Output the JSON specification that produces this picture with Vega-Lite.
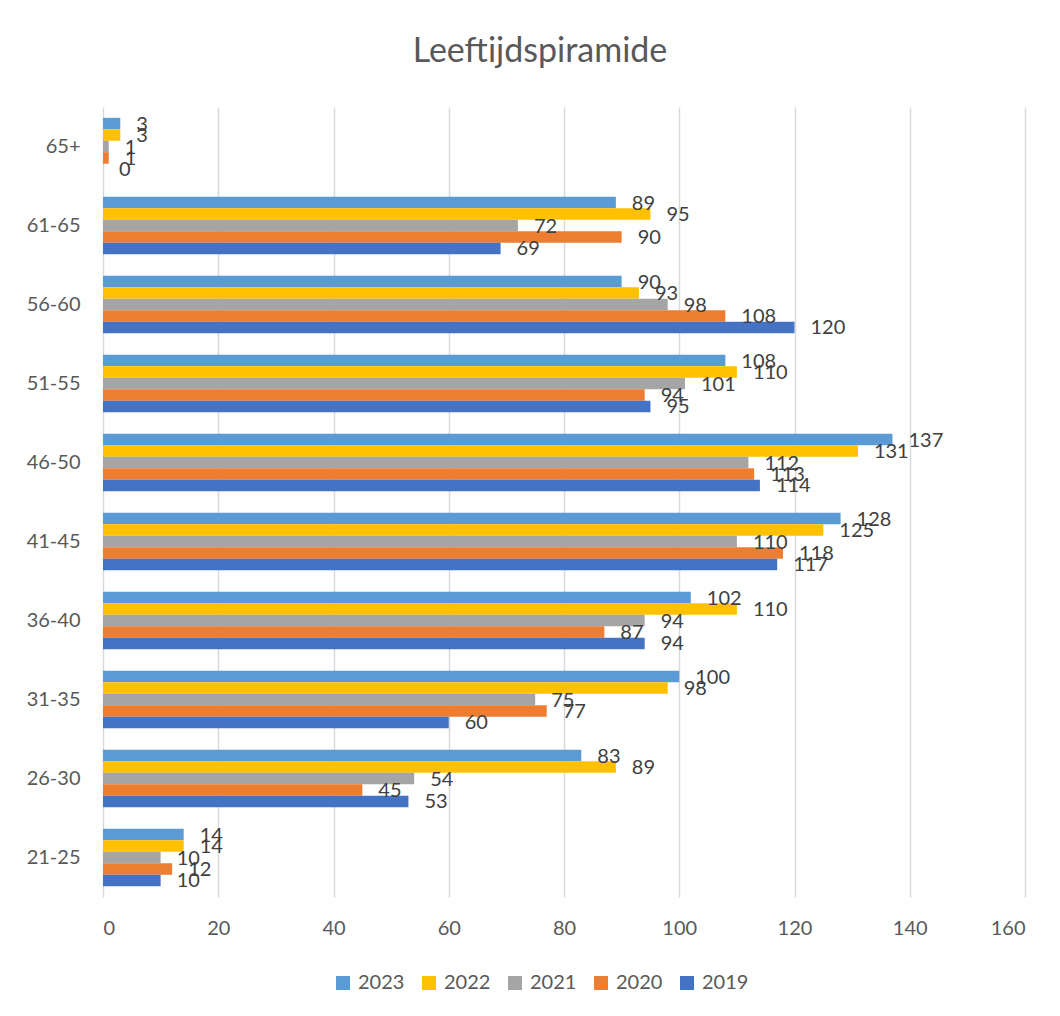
{
  "$schema": "https://vega.github.io/schema/vega-lite/v6.json",
  "autosize": {"type": "none"},
  "padding": {"left": 103, "top": 107, "right": 35, "bottom": 119},
  "width": 922,
  "height": 790,
  "background": "white",
  "title": {
    "text": "Leeftijdspiramide",
    "font": "Lato",
    "fontSize": 34,
    "fontWeight": "normal",
    "color": "#595959",
    "anchor": "middle",
    "frame": "group",
    "baseline": "alphabetic",
    "offset": 11,
    "dx": -24
  },
  "data": {
    "values": [
      {"Leeftijd": "65+", "Jaar": "2023", "Aantal": 3},
      {"Leeftijd": "65+", "Jaar": "2022", "Aantal": 3},
      {"Leeftijd": "65+", "Jaar": "2021", "Aantal": 1},
      {"Leeftijd": "65+", "Jaar": "2020", "Aantal": 1},
      {"Leeftijd": "65+", "Jaar": "2019", "Aantal": 0},
      {"Leeftijd": "61-65", "Jaar": "2023", "Aantal": 89},
      {"Leeftijd": "61-65", "Jaar": "2022", "Aantal": 95},
      {"Leeftijd": "61-65", "Jaar": "2021", "Aantal": 72},
      {"Leeftijd": "61-65", "Jaar": "2020", "Aantal": 90},
      {"Leeftijd": "61-65", "Jaar": "2019", "Aantal": 69},
      {"Leeftijd": "56-60", "Jaar": "2023", "Aantal": 90},
      {"Leeftijd": "56-60", "Jaar": "2022", "Aantal": 93},
      {"Leeftijd": "56-60", "Jaar": "2021", "Aantal": 98},
      {"Leeftijd": "56-60", "Jaar": "2020", "Aantal": 108},
      {"Leeftijd": "56-60", "Jaar": "2019", "Aantal": 120},
      {"Leeftijd": "51-55", "Jaar": "2023", "Aantal": 108},
      {"Leeftijd": "51-55", "Jaar": "2022", "Aantal": 110},
      {"Leeftijd": "51-55", "Jaar": "2021", "Aantal": 101},
      {"Leeftijd": "51-55", "Jaar": "2020", "Aantal": 94},
      {"Leeftijd": "51-55", "Jaar": "2019", "Aantal": 95},
      {"Leeftijd": "46-50", "Jaar": "2023", "Aantal": 137},
      {"Leeftijd": "46-50", "Jaar": "2022", "Aantal": 131},
      {"Leeftijd": "46-50", "Jaar": "2021", "Aantal": 112},
      {"Leeftijd": "46-50", "Jaar": "2020", "Aantal": 113},
      {"Leeftijd": "46-50", "Jaar": "2019", "Aantal": 114},
      {"Leeftijd": "41-45", "Jaar": "2023", "Aantal": 128},
      {"Leeftijd": "41-45", "Jaar": "2022", "Aantal": 125},
      {"Leeftijd": "41-45", "Jaar": "2021", "Aantal": 110},
      {"Leeftijd": "41-45", "Jaar": "2020", "Aantal": 118},
      {"Leeftijd": "41-45", "Jaar": "2019", "Aantal": 117},
      {"Leeftijd": "36-40", "Jaar": "2023", "Aantal": 102},
      {"Leeftijd": "36-40", "Jaar": "2022", "Aantal": 110},
      {"Leeftijd": "36-40", "Jaar": "2021", "Aantal": 94},
      {"Leeftijd": "36-40", "Jaar": "2020", "Aantal": 87},
      {"Leeftijd": "36-40", "Jaar": "2019", "Aantal": 94},
      {"Leeftijd": "31-35", "Jaar": "2023", "Aantal": 100},
      {"Leeftijd": "31-35", "Jaar": "2022", "Aantal": 98},
      {"Leeftijd": "31-35", "Jaar": "2021", "Aantal": 75},
      {"Leeftijd": "31-35", "Jaar": "2020", "Aantal": 77},
      {"Leeftijd": "31-35", "Jaar": "2019", "Aantal": 60},
      {"Leeftijd": "26-30", "Jaar": "2023", "Aantal": 83},
      {"Leeftijd": "26-30", "Jaar": "2022", "Aantal": 89},
      {"Leeftijd": "26-30", "Jaar": "2021", "Aantal": 54},
      {"Leeftijd": "26-30", "Jaar": "2020", "Aantal": 45},
      {"Leeftijd": "26-30", "Jaar": "2019", "Aantal": 53},
      {"Leeftijd": "21-25", "Jaar": "2023", "Aantal": 14},
      {"Leeftijd": "21-25", "Jaar": "2022", "Aantal": 14},
      {"Leeftijd": "21-25", "Jaar": "2021", "Aantal": 10},
      {"Leeftijd": "21-25", "Jaar": "2020", "Aantal": 12},
      {"Leeftijd": "21-25", "Jaar": "2019", "Aantal": 10}
    ]
  },
  "encoding": {
    "y": {
      "field": "Leeftijd",
      "type": "nominal",
      "sort": ["65+", "61-65", "56-60", "51-55", "46-50", "41-45", "36-40", "31-35", "26-30", "21-25"],
      "scale": {"paddingInner": 0.274, "paddingOuter": 0.137},
      "axis": {
        "title": null,
        "ticks": false,
        "domain": false,
        "grid": false,
        "labelPadding": 23,
        "labelFont": "Lato",
        "labelFontSize": 20,
        "labelColor": "#595959"
      }
    },
    "yOffset": {
      "field": "Jaar",
      "type": "nominal",
      "sort": ["2023", "2022", "2021", "2020", "2019"],
      "scale": {"paddingInner": 0, "paddingOuter": 0}
    },
    "x": {
      "field": "Aantal",
      "type": "quantitative",
      "scale": {"domain": [0, 160], "nice": false},
      "axis": {
        "title": null,
        "values": [0, 20, 40, 60, 80, 100, 120, 140, 160],
        "ticks": false,
        "domain": false,
        "grid": true,
        "gridColor": "#D9D9D9",
        "gridWidth": 1.5,
        "labelPadding": 21,
        "labelFont": "Lato",
        "labelFontSize": 20,
        "labelColor": "#595959"
      }
    }
  },
  "layer": [
    {
      "mark": {"type": "bar"},
      "encoding": {
        "color": {
          "field": "Jaar",
          "type": "nominal",
          "scale": {
            "domain": ["2023", "2022", "2021", "2020", "2019"],
            "range": ["#5B9BD5", "#FFC000", "#A5A5A5", "#ED7D31", "#4472C4"]
          },
          "legend": {
            "title": null,
            "orient": "none",
            "direction": "horizontal",
            "columns": 5,
            "legendX": 230,
            "legendY": 866,
            "symbolType": "square",
            "symbolSize": 196,
            "symbolStrokeWidth": 0,
            "symbolOpacity": 1,
            "labelFont": "Lato",
            "labelFontSize": 20,
            "labelColor": "#595959",
            "labelOffset": 5,
            "columnPadding": 14
          }
        }
      }
    },
    {
      "mark": {
        "type": "text",
        "align": "left",
        "baseline": "middle",
        "dx": 16,
        "dy": 1,
        "font": "Lato",
        "fontSize": 20,
        "color": "#404040"
      },
      "encoding": {
        "text": {"field": "Aantal", "type": "quantitative"}
      }
    }
  ],
  "config": {
    "view": {"stroke": null}
  }
}
